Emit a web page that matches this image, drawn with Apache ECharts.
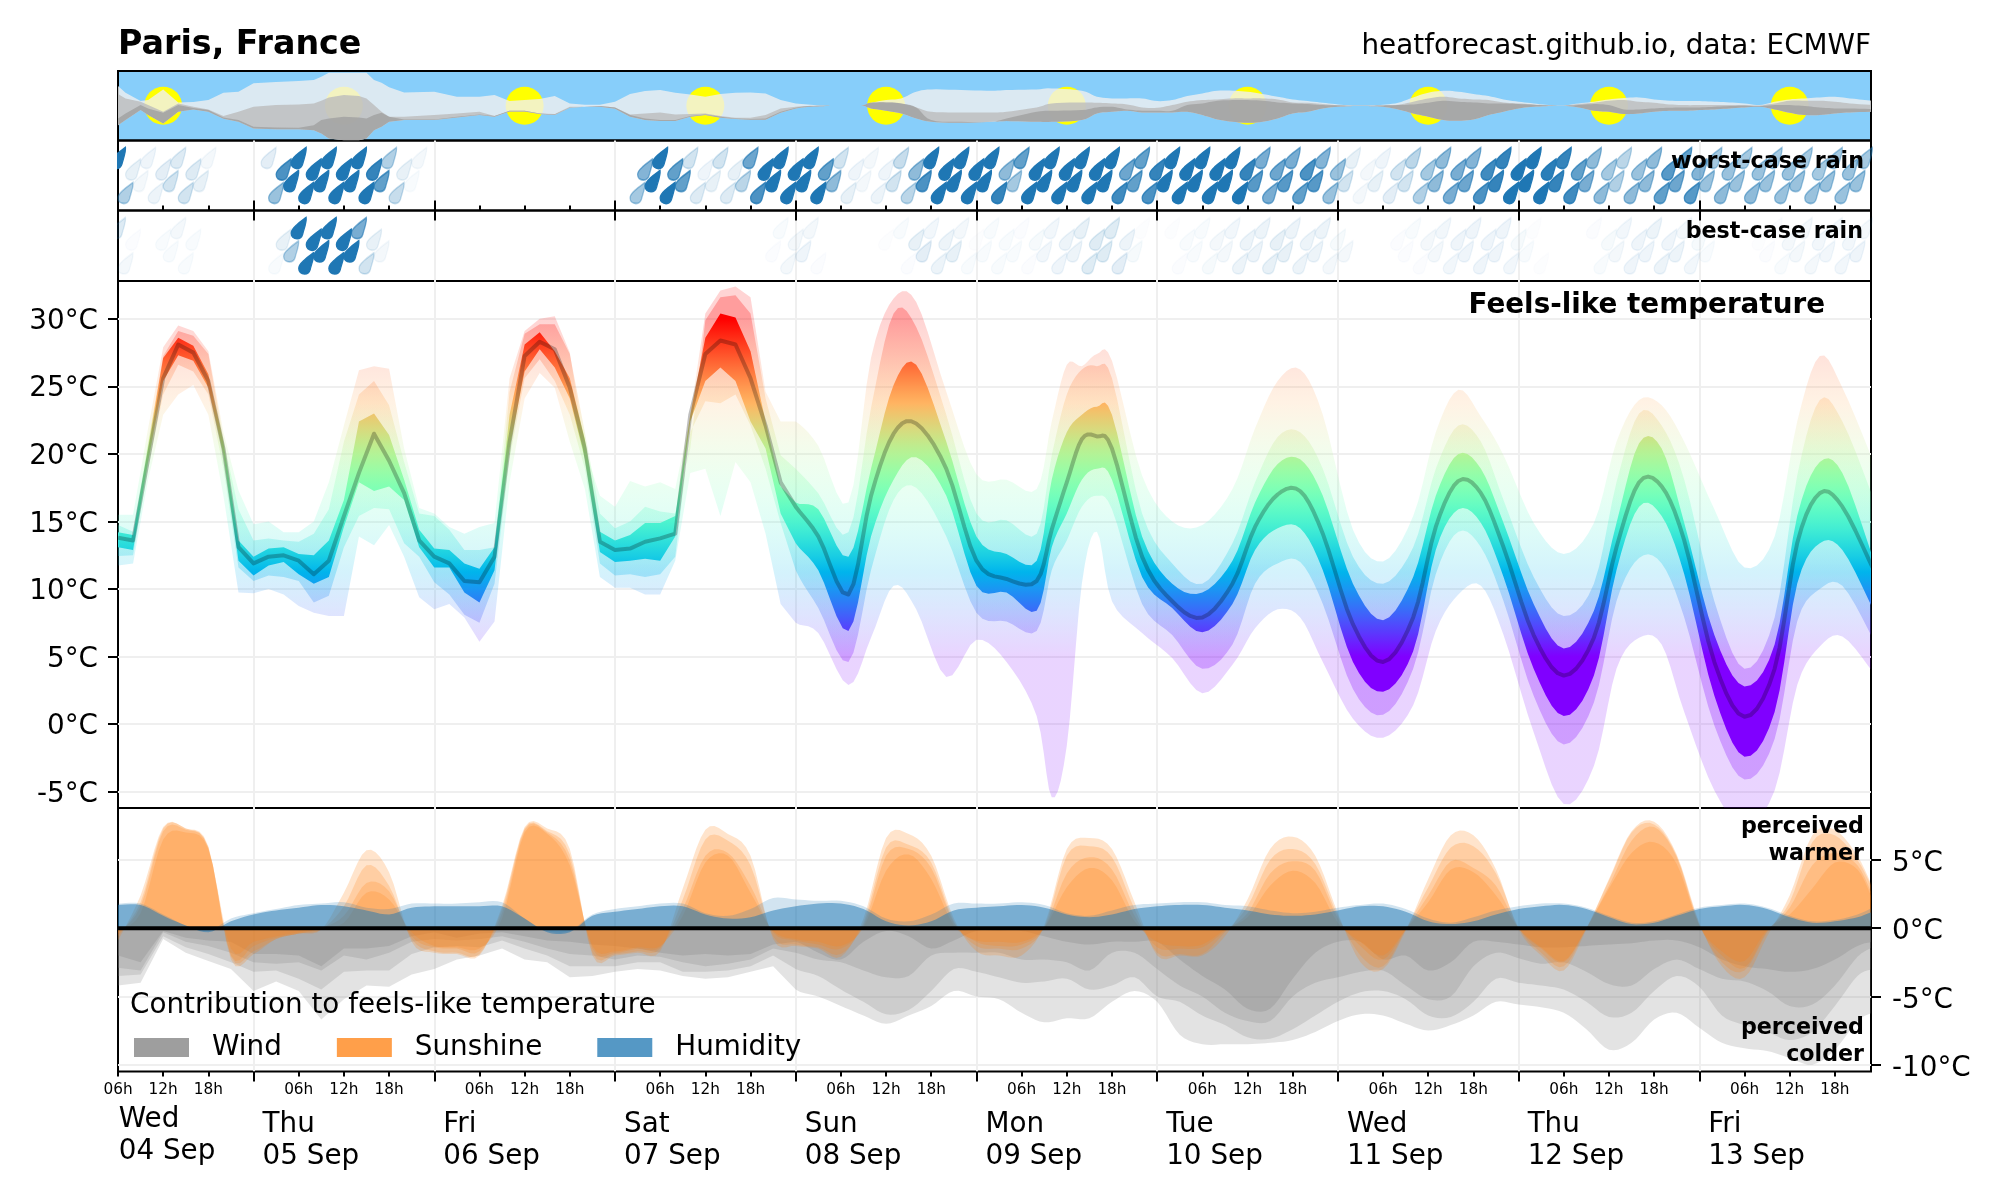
<!DOCTYPE html>
<html>
<head>
<meta charset="utf-8">
<title>Paris, France</title>
<style>html,body{margin:0;padding:0;background:#fff}#chart{width:2000px;height:1200px}</style>
<script src="https://cdn.jsdelivr.net/npm/echarts@6/dist/echarts.min.js"></script>
</head>
<body>
<div id="chart"></div>
<script>
// hours since Wed 04 Sep 06:00
const tempHours = [0,2,4,6,8,10,12,14,16,18,20,22,24,26,28,30,32,34,36,38,40,42,44,46,48,50,52,54,56,58,60,62,64,66,68,70,72,74,76,78,80,82,84,86,88,90,
  93,97,100,103,106,110,114,118,122,124,126,128,130,132,136,140,144,148,151,154,157,160,164,168,172,175,178,181,184,188,192,196,199,202,205,208,212,216,220,223,226,229,233];
const tempOuterHigh = [15.5,15.5,21.9,27.9,29.5,29.1,27.6,21.6,17.3,14.8,15.0,14.2,14.2,15.0,17.9,22.1,26.2,26.5,26.3,20.4,16.0,15.6,14.6,14.1,14.6,14.9,25.6,29.1,30.0,30.2,27.5,20.4,16.9,16.1,18.0,17.6,17.9,17.4,22.9,30.4,32.1,32.4,31.6,24.6,22.4,22.4,
  20.6,16.4,27.1,31.5,31.25,24.6,18.5,18.1,17.4,22.4,26.6,26.5,27.4,26.9,18.4,15.0,14.75,17.4,21.9,25.4,26.25,22.9,14.4,12.05,15.4,21.6,24.75,22.75,19.9,14.9,12.6,14.9,20.9,24.0,23.6,20.9,15.9,11.6,13.9,22.4,27.25,24.9,19.6];
const tempMidHigh = [14.75,14.25,20.9,27.25,29.1,28.75,27.4,21.1,15.9,13.6,13.75,13.6,13.5,14.1,15.9,20.9,24.4,25.4,23.6,19.4,15.6,15.4,14.4,12.9,12.9,13.1,24.6,28.9,29.6,29.6,27.4,21.6,15.6,14.5,15.0,16.1,15.75,15.6,20.4,29.9,31.6,31.75,30.4,24.1,19.9,18.9,
  17.1,14.2,23.4,30.4,29.4,22.9,15.6,15.1,14.1,19.9,24.4,26.25,26.5,25.6,15.6,11.9,10.4,13.4,17.9,21.25,21.6,18.9,12.4,10.4,13.1,18.9,22.1,20.9,16.6,10.9,8.0,10.4,17.9,23.0,22.1,18.1,9.1,4.1,7.9,18.4,24.0,22.4,16.9];
const tempInnerHigh = [14.2,14.0,20.6,27.1,28.6,28.0,25.9,20.9,13.6,12.4,13.0,13.1,12.6,12.5,13.6,16.6,22.4,23.0,21.4,18.1,14.4,13.0,12.9,11.9,11.5,13.1,22.9,28.1,29.0,27.6,25.6,21.1,14.25,13.6,14.0,14.9,14.9,15.4,22.9,28.6,30.4,30.1,27.6,22.4,17.6,16.4,
  15.9,12.4,18.9,25.1,26.6,20.9,13.9,12.6,12.1,18.1,21.6,22.9,23.5,22.9,13.9,10.4,9.75,12.1,16.4,19.25,19.6,16.9,10.4,7.7,10.9,16.9,20.0,18.9,14.9,8.9,5.6,8.4,14.9,20.8,20.4,14.9,6.6,2.8,5.9,15.4,19.4,18.6,12.4];
const tempMedian = [13.8,13.6,19.6,25.6,28.1,27.5,25.4,20.4,13.1,11.9,12.4,12.5,12.1,11.1,12.1,15.4,18.6,21.5,19.5,17.1,13.6,12.4,11.9,10.6,10.5,12.4,20.9,27.25,28.3,27.75,24.9,20.4,13.5,12.9,13.0,13.5,13.75,14.1,22.9,27.4,28.4,28.1,25.6,22.1,17.9,16.1,
  13.9,9.6,16.9,21.5,22.25,18.9,12.1,10.75,10.6,14.4,17.9,21.1,21.3,20.4,12.4,9.1,7.9,10.4,14.6,17.0,17.25,14.1,7.4,4.6,7.9,14.6,18.0,17.1,13.1,6.6,3.6,6.4,13.1,17.9,17.6,13.6,4.6,0.55,4.1,13.4,17.1,16.1,11.6];
const tempInnerLow = [13.1,12.9,19.4,25.4,27.3,26.9,24.9,19.9,12.1,11.0,11.75,12.0,11.1,10.4,10.9,14.6,17.9,17.25,17.6,16.6,13.1,11.6,11.6,9.75,9.0,11.4,20.4,26.1,27.75,26.4,24.1,19.6,12.75,12.0,12.1,12.25,12.1,13.9,22.4,25.4,26.4,25.4,22.4,20.4,15.6,13.4,
  11.4,6.9,13.9,18.1,19.75,16.9,10.25,9.75,8.4,13.1,15.6,18.1,18.9,18.1,10.9,8.6,6.8,8.9,12.9,14.5,14.5,11.4,4.6,2.4,5.4,12.9,15.9,14.9,10.9,4.1,0.6,3.6,11.4,16.1,15.4,11.1,2.1,-2.4,0.9,10.4,13.4,12.9,8.6];
const tempMidLow = [12.45,12.5,18.9,24.4,26.6,26.1,24.4,18.9,11.6,10.6,11.0,10.9,10.6,9.0,9.5,13.1,15.4,16.0,15.9,13.4,12.4,10.5,9.6,8.1,7.5,10.4,19.6,25.6,27.0,25.4,22.9,18.9,11.9,11.0,11.1,10.9,11.1,12.4,21.6,23.9,23.75,24.4,22.1,18.9,14.9,11.4,
  8.6,4.6,11.4,16.6,17.5,13.9,8.25,7.6,6.9,11.4,13.6,16.1,16.9,15.9,8.9,6.6,4.1,5.9,10.4,11.9,12.0,8.9,2.6,0.7,4.1,11.1,14.25,13.1,9.1,2.1,-1.5,1.6,9.1,12.3,11.9,7.9,-0.1,-4.1,-1.1,7.6,10.0,10.25,6.4];
const tempOuterLow = [11.75,11.9,18.1,22.9,24.4,25.1,22.9,16.9,9.75,9.7,10.0,9.6,8.75,8.25,8.0,8.0,13.9,13.25,14.75,12.4,9.4,8.5,8.9,7.9,6.1,7.6,17.9,24.1,26.0,24.9,20.9,17.4,10.9,10.1,10.1,9.6,9.6,12.1,18.6,18.9,15.4,19.4,17.9,14.1,8.9,7.5,
  6.75,2.9,6.4,10.25,8.5,3.5,6.25,4.6,0.6,-5.4,-1.6,10.4,14.25,9.1,6.75,4.9,2.3,4.4,7.1,8.5,7.9,4.6,0.4,-1.0,1.4,6.9,9.6,10.25,6.6,-0.6,-5.9,-3.1,4.1,6.4,5.9,0.9,-4.9,-7.6,-4.9,2.9,5.75,6.5,3.9];

const contribHours = [0,3,6,9,12,15,18,21,24,27,30,33,36,39,42,45,48,51,54,57,60,63,66,69,72,75,78,81,84,87,90,
  93,96,99,102,105,108,111,114,117,120,123,126,129,132,135,138,141,144,147,150,153,156,159,162,165,168,171,174,177,180,
  183,186,189,192,195,198,201,204,207,210,213,216,219,222,225,228,231,233];
const windOuter = [-4.2,-4.0,-0.8,-1.8,-2.4,-3.0,-4.6,-3.9,-4.6,-6.7,-5.2,-4.2,-4.3,-3.4,-3.0,-2.3,-2.0,-1.5,-2.3,-2.5,-3.6,-3.5,-3.2,-3.0,-3.1,-3.5,-3.7,-3.6,-3.2,-2.8,-4.5,
  -5.0,-5.7,-6.4,-7.0,-6.4,-5.7,-4.6,-5.0,-5.2,-6.2,-6.9,-6.6,-6.6,-5.4,-4.6,-5.4,-7.8,-8.5,-8.5,-8.5,-8.4,-8.2,-7.6,-6.8,-6.3,-6.4,-7.0,-7.5,-7.1,-6.4,
  -5.4,-5.6,-5.8,-6.2,-7.4,-8.9,-8.4,-6.7,-6.2,-7.3,-8.4,-8.8,-9.0,-9.5,-10.0,-8.9,-6.8,-6.2];
const windMid = [-3.5,-3.4,-0.6,-1.4,-1.9,-2.5,-3.2,-3.1,-3.7,-4.5,-3.2,-3.1,-3.1,-1.9,-1.4,-1.3,-1.4,-0.9,-1.5,-2.0,-2.8,-2.8,-2.8,-2.5,-2.5,-3.2,-3.2,-3.1,-2.8,-2.0,-3.0,
  -3.5,-4.5,-5.4,-6.3,-6.0,-4.6,-3.0,-3.2,-3.6,-4.0,-3.9,-3.7,-4.5,-4.2,-3.6,-5.0,-5.4,-6.4,-7.1,-8.0,-8.1,-7.4,-6.4,-5.4,-4.7,-4.6,-5.2,-6.4,-6.5,-5.4,
  -3.7,-4.0,-4.2,-4.5,-5.4,-6.5,-6.2,-4.6,-3.5,-4.3,-6.4,-7.1,-7.6,-8.2,-7.6,-5.7,-3.5,-3.0];
const windInner = [-2.9,-3.1,-0.3,-1.0,-1.3,-1.8,-2.5,-2.6,-2.5,-3.1,-2.0,-2.3,-1.8,-1.0,-0.8,-0.9,-0.8,-0.6,-1.0,-1.5,-1.9,-2.0,-2.3,-2.0,-2.1,-2.5,-2.8,-2.6,-2.3,-1.5,-1.8,
  -2.3,-2.5,-3.1,-3.6,-3.5,-2.0,-1.8,-1.8,-1.8,-2.3,-2.3,-2.5,-3.1,-1.8,-1.8,-3.0,-4.2,-5.0,-6.2,-6.8,-6.8,-5.0,-4.0,-3.6,-3.2,-3.1,-4.2,-5.2,-5.0,-2.8,
  -1.8,-2.2,-2.6,-2.5,-3.2,-4.1,-4.2,-3.0,-2.3,-3.0,-3.7,-3.9,-4.6,-5.7,-5.6,-4.2,-2.1,-1.4];
const windCore = [-2.0,-2.5,-0.2,-0.7,-0.9,-1.0,-1.9,-1.9,-2.0,-2.8,-1.5,-1.5,-1.3,-0.6,-0.3,-0.7,-0.4,-0.3,-0.6,-0.9,-1.0,-1.2,-1.3,-1.5,-1.8,-2.0,-1.9,-2.0,-1.9,-1.2,-1.0,
  -1.8,-2.3,-1.0,-0.2,-0.6,-1.5,-0.9,-0.2,-0.2,-0.2,-0.6,-1.0,-1.2,-1.0,-1.0,-1.0,-2.3,-3.5,-4.5,-5.9,-5.9,-3.7,-1.8,-1.0,-1.0,-2.3,-2.0,-3.1,-2.5,-1.0,
  -1.0,-1.2,-1.4,-1.4,-1.3,-1.2,-1.1,-0.9,-0.9,-1.4,-2.3,-2.8,-3.0,-3.2,-3.0,-2.3,-1.3,-1.0];
const sunOuter = [-0.9,2.4,7.4,7.3,6.0,-2.3,-1.9,-0.8,-0.4,-0.1,2.6,5.7,4.1,-1.0,-1.8,-1.9,-2.0,1.6,7.4,7.3,5.8,-2.0,-2.0,-1.8,-1.7,2.9,7.2,6.9,5.3,-0.8,-1.3,
  -1.5,-2.1,0.7,6.6,6.9,5.3,0.7,-1.7,-2.0,-2.0,0.2,5.8,6.6,5.8,1.9,-2.0,-2.0,-2.0,-0.6,2.1,5.8,6.7,5.3,1.1,-2.5,-3.0,-0.2,3.6,6.8,6.8,
  4.3,-0.1,-2.0,-3.1,-0.1,3.6,7.1,7.8,5.4,0.4,-2.8,-3.6,-0.6,2.4,6.8,7.2,5.3,3.0];
const sunMid = [-0.6,1.9,7.3,7.3,5.9,-2.1,-1.7,-0.8,-0.4,-0.1,1.6,4.6,3.1,-0.8,-1.7,-1.8,-1.9,1.4,7.3,7.1,5.4,-1.8,-1.9,-1.7,-1.5,2.1,6.5,6.4,4.6,-0.6,-1.2,
  -1.4,-1.9,0.4,5.9,6.1,4.8,0.5,-1.3,-1.5,-1.5,0.05,5.3,6.0,5.2,1.4,-1.8,-1.9,-1.9,-0.3,1.6,5.0,5.8,4.7,0.9,-2.0,-2.8,-0.1,3.0,5.9,6.0,
  4.0,0.05,-1.8,-2.8,0,3.5,7.0,7.6,5.3,0.3,-2.5,-3.1,-0.3,1.9,6.3,6.8,5.0,2.9];
const sunInner = [-0.4,1.6,7.1,7.2,5.9,-2.0,-1.3,-0.7,-0.4,0,0.9,3.3,2.7,-0.6,-1.4,-1.5,-1.7,1.1,7.2,7.0,5.0,-1.5,-1.8,-1.5,-1.4,1.4,5.3,5.5,3.1,-0.3,-0.9,
  -1.2,-1.5,0.2,5.3,5.8,4.4,0.4,-1.0,-1.3,-1.2,0,4.0,5.2,4.3,0.9,-1.4,-1.5,-1.4,-0.2,1.1,4.0,4.9,4.2,0.7,-1.3,-2.3,-0.1,2.4,4.9,4.4,
  3.1,0,-1.5,-2.5,0,3.1,6.4,7.4,5.2,0.2,-2.0,-2.9,-0.2,1.5,4.6,5.5,4.6,2.4];
const sunCore = [-0.2,1.1,6.5,7.0,5.8,-1.5,-1.0,-0.6,-0.3,0,0.4,2.6,2.1,-0.3,-1.3,-1.4,-1.5,0.7,7.0,6.9,4.6,-1.3,-1.7,-1.4,-1.3,0.9,4.8,5.3,2.6,-0.2,-0.8,
  -1.0,-1.3,0.05,4.2,5.4,3.6,0.2,-0.9,-1.0,-1.0,0,3.0,4.4,3.5,0.5,-1.0,-1.3,-1.2,-0.1,0.8,3.1,4.2,3.3,0.4,-1.0,-2.0,-0.1,1.9,4.3,4.1,
  2.4,0,-1.4,-2.4,0,2.9,5.5,6.3,4.7,0.2,-1.7,-2.4,-0.1,1.0,2.9,4.8,4.3,2.1];
const humidityHigh = [1.8,1.8,1.0,0.2,-0.2,0.7,1.1,1.4,1.7,1.8,1.9,1.5,1.4,1.8,1.8,1.8,1.9,1.9,0.7,-0.2,-0.2,1.0,1.4,1.6,1.8,1.8,1.1,0.9,1.4,2.2,2.1,
  2.0,2.0,1.6,0.7,0.5,1.0,1.8,1.8,1.8,1.9,1.7,1.1,0.9,1.3,1.7,1.8,1.9,1.9,1.7,1.6,1.3,1.1,1.2,1.5,1.7,1.8,1.4,0.7,0.4,0.8,
  1.3,1.6,1.8,1.8,1.5,0.9,0.4,0.5,1.0,1.5,1.7,1.8,1.5,0.9,0.5,0.6,1.0,1.5];
const humidityLow = [1.7,1.7,0.9,0.2,-0.3,0.5,1.0,1.3,1.5,1.7,1.6,1.3,1.0,1.5,1.6,1.6,1.6,1.6,0.7,-0.3,-0.3,0.9,1.2,1.4,1.6,1.6,1.0,0.7,0.8,1.3,1.6,
  1.8,1.8,1.4,0.5,0.2,0.5,1.3,1.5,1.6,1.7,1.5,1.0,0.8,1.0,1.4,1.6,1.7,1.7,1.5,1.3,1.0,0.9,1.0,1.3,1.6,1.6,1.2,0.5,0.3,0.5,
  1.0,1.4,1.6,1.7,1.4,0.8,0.3,0.4,0.9,1.4,1.6,1.7,1.4,0.8,0.4,0.5,0.8,1.2];

// one drop per forecast hour, its strength shown as opacity
const rainWorst = [1,.35,.1,.05, .07,.08,.12,.2, .15,.2,.15,.1, .05,0,0,0, 0,0,0,0, .12,.45,.8,1, 1,1,1,1, 1,1,1,1, 1,1,.9,.7, .35,.25,.1,.03,
  .05,0,0,0, 0,0,0,0, 0,0,0,0, 0,0,0,0, 0,0,0,0, 0,0,0,0, 0,0,0,0, 0,.4,.55,1,
  1,1,.7,.7, .2,.15,.07,.1, .2,.15,.1,.3, .65,.8,1,1, 1,1,1,1, 1,1,.7,.5, .2,.1,.07,.05, .05,.08,.07,.2, .25,.3,.5,.8,
  1,1,1,1, 1,1,1,1, 1,.9,.5,.4, .7,1,1,1, 1,1,1,1, 1,1,1,1, 1,.85,.65,.7, .7,.8,.9,1, 1,1,1,1, 1,1,1,1, 1,1,.9,.75,
  .6,.6,.65,.75, .6,.7,.8,.75, .55,.45,.45,.2, .1,.05,.05,.1, .07,.12,.2,.2, .3,.35,.4,.5, .5,.6,.6,.65, .55,.8,.85,.9,
  .9,1,1,1, 1,1,.95,.9, .9,.85,.7,.6, .5,.5,.4,.35, .3,.5,.45,.5, .5,.7,.75,.65, .7,.75,.55,.45, .4,.5,.45,.45,
  .4,.5,.45,.45, .4,.45,.45,.45, .4,.45,.4,.45, .4,.45,.45,.45, .4];
const rainBest = [.15,.05,.02,0, 0,0,.03,.03, .05,.03,.03,0, 0,0,0,0, 0,0,0,0, 0,.03,.1,.35, 1,1,1,1, 1,1,1,1, .6,.2,.1,.05,
  0,0,0,0, 0,0,0,0, 0,0,0,0, 0,0,0,0, 0,0,0,0, 0,0,0,0, 0,0,0,0, 0,0,0,0, 0,0,0,0, 0,0,0,0, 0,0,0,0, 0,0,0,0, 0,0,0,.02,
  .03,.05,.05,.07, .05,.02,0,0, 0,0,0,0, 0,0,.01,0, .03,.02,.1,.12, .06,.08,.08,.1, .05,.03,.01,.03, .03,.03,.03,.03,
  .02,.02,.04,.06, .06,.07,.08,.08, .1,.14,.14,.14, .14,.12,.08,.04, .01,0,0,0, .01,.02,.03,.03, .03,.04,.05,.05, .06,.08,.08,.08,
  .08,.1,.1,.1, .08,.08,.08,.08, .08,.05,.04,.05, 0,0,0,0, 0,0,.02,.02, .03,.02,.05,.05, .06,.06,.07,.07, .07,.07,.07,.07,
  .07,.06,.04,.03, .01,.01,0,0, 0,0,0,0, .02,.03,.04,.05, .06,.07,.07,.07, .08,.08,.07,.08, .05,.06,.04,.03, 0,0,0,0,
  0,0,.01,.02, .02,.03,.05,.05, .05,.05,.06,.06, .05,.06,.06,.07, .05];

const sunHours = [6,30,54,78,102,126,150,174,198,222];
const cloudHours = [0,1,3,4,6,8,10,12,14,16,18,21,24,26,27,28,30,32,33,34,35,36,38,42,45,48,50,52,54,56,58,60,62,64,66,68,70,72,74,76,78,80,82,84,86,88,90,92,94,95,98,99,100,102,104,106,108,112,116,118,122,124,128,130,132,134,136,138,140,142,144,146,148,150,152,154,156,158,160,162,164,166,168,170,172,174,176,178,180,182,184,186,188,190,192,194,196,198,200,202,204,206,208,210,212,214,216,218,220,222,224,226,228,230,233];
const cloudLightTop = [48,68,93,90,58,97,96,90,68,65,40,36,33,30,20,8,8,8,8,30,38,52,67,65,80,80,75,93,90,87,78,100,104,104,95,72,63,60,68,73,80,72,68,67,70,90,100,104,107,107,107,105,98,90,85,65,58,60,62,60,58,55,62,80,85,85,85,93,90,78,70,62,62,65,72,80,88,93,98,103,106,106,104,98,82,68,62,65,72,78,88,95,100,105,106,100,95,88,84,82,88,92,93,93,95,97,100,105,95,88,85,82,80,85,92];
const cloudMidTop = [72,85,95,105,125,100,110,118,138,125,110,105,103,100,92,82,75,78,85,105,125,140,140,135,130,125,138,122,122,130,132,110,110,108,112,133,130,127,133,132,130,138,143,143,135,115,110,107,107,107,107,105,98,97,100,112,125,127,127,125,112,100,97,98,100,103,112,113,105,95,90,88,85,85,85,88,97,98,102,105,107,107,106,104,95,85,80,85,88,90,97,100,103,106,106,102,98,92,90,95,98,103,105,105,105,105,105,106,100,92,92,92,95,100,105];
const cloudDarkTop = [145,130,105,115,128,105,114,120,142,150,170,172,173,165,150,145,140,142,145,135,128,140,148,148,140,133,138,122,122,130,133,112,110,108,112,135,145,150,150,138,133,140,145,147,145,125,113,108,107,107,107,105,98,97,100,112,150,155,155,145,125,122,120,112,110,118,122,122,122,105,100,92,90,90,92,97,100,102,105,106,107,107,106,105,103,98,92,95,97,100,100,102,104,106,107,105,102,105,118,118,115,113,112,112,110,108,107,108,105,105,108,112,115,115,117];
const cloudBottom = [165,150,120,135,160,125,118,125,146,155,175,177,177,180,190,205,210,210,205,180,170,155,150,150,142,135,140,124,124,132,135,113,110,110,116,140,150,153,153,140,135,143,147,149,149,128,115,110,108,107,107,107,115,122,130,145,155,158,155,153,155,155,150,130,125,122,127,127,127,125,135,148,155,158,155,145,130,125,115,110,108,108,110,118,130,140,150,152,148,135,125,115,110,108,107,112,122,125,132,130,125,122,122,120,118,115,112,110,118,128,135,135,130,127,125];

const tempTicks = [-5,0,5,10,15,20,25,30];
const contribTicks = [-10,-5,0,5];
const dayBounds = [18,42,66,90,114,138,162,186,210];
const hourTicks = [0,6,12,24,30,36,48,54,60,72,78,84,96,102,108,120,126,132,144,150,156,168,174,180,192,198,204,216,222,228];
const hourTickLabels = ['06h','12h','18h'];
const dayLabelHours = [19.2,43.2,67.2,91.2,115.2,139.2,163.2,187.2,211.2];
const dayLabels = ['Thu\n05 Sep','Fri\n06 Sep','Sat\n07 Sep','Sun\n08 Sep','Mon\n09 Sep','Tue\n10 Sep','Wed\n11 Sep','Thu\n12 Sep','Fri\n13 Sep'];
const firstDayHour = [0.1];
const firstDayLabel = 'Wed\n04 Sep';

const FONT = '"DejaVu Sans"';
const X_MAX = 232.8;
const chart = echarts.init(document.getElementById('chart'), null, {renderer:'canvas', width:2000, height:1200});

function trace(xs, ys, from) {
  const out = [];
  const n = xs.length;
  for (let i = 0; i < n - 1; i++) {
    if (xs[i] < from) { out.push([xs[i], ys[i]]); continue; }
    const a = Math.max(i - 1, 0), d = Math.min(i + 2, n - 1);
    for (let k = 0; k < 5; k++) {
      const t = k / 5, t2 = t * t, t3 = t2 * t;
      const cr = (p0, p1, p2, p3) => 0.5 * (2 * p1 + (p2 - p0) * t + (2 * p0 - 5 * p1 + 4 * p2 - p3) * t2 + (3 * p1 - p0 - 3 * p2 + p3) * t3);
      out.push([cr(xs[a], xs[i], xs[i + 1], xs[d]), cr(ys[a], ys[i], ys[i + 1], ys[d])]);
    }
  }
  out.push([xs[n - 1], ys[n - 1]]);
  return out;
}
function band(name, axis, xs, hi, lo, fill, opacity, from) {
  const start = from === undefined ? 89 : from;
  const up = trace(xs, hi, start);
  const down = lo ? trace(xs, lo, start).reverse() : [[xs[xs.length - 1], 0], [xs[0], 0]];
  return {
    type: 'custom', name, xAxisIndex: axis.x, yAxisIndex: axis.y, clip: true, silent: true, z: 2,
    data: xs.map((x, i) => [x, hi[i], lo ? lo[i] : 0]),
    encode: {x: 0, y: [1, 2]},
    renderItem(params, api) {
      if (params.dataIndex !== 0) return null;
      const pts = up.concat(down).map(p => api.coord(p));
      return {type: 'polygon', shape: {points: pts},
        style: {fill: typeof fill === 'function' ? fill(api) : fill, opacity}};
    }
  };
}
function rainbowStops() {
  const stops = [];
  for (let i = 0; i <= 40; i++) {
    const x = 1 - i / 40;
    const c = v => Math.round(255 * Math.min(1, Math.max(0, v)));
    stops.push({offset: i / 40, color: `rgb(${c(Math.abs(2 * x - 0.5))},${c(Math.sin(Math.PI * x))},${c(Math.cos(Math.PI * x / 2))})`});
  }
  return stops;
}
const STOPS = rainbowStops();
const tempFill = api => {
  const y1 = api.coord([0, 30])[1], y2 = api.coord([0, 5])[1];
  return new echarts.graphic.LinearGradient(0, y1, 0, y2, STOPS, true);
};
function drops(values, xi, yi) {
  const rowY = [.75, .25, .585, .42];
  return {
    type: 'scatter', xAxisIndex: xi, yAxisIndex: yi, silent: true, z: 3,
    symbol: 'path://M28 0 C29 10 24 22 21.5 33 C20 39 15 42 11 42 C4 42 0 37 0 31 C0 24 5 20 10 15 C16 9 23 4 28 0 Z',
    symbolSize: [15, 21],
    data: values.map((v, h) => ({value: [h, rowY[h % 4]], itemStyle: {opacity: v}})).filter(d => d.itemStyle.opacity > 0),
    itemStyle: {color: '#1f77b4', borderColor: '#1f77b4', borderWidth: 1.5}
  };
}

const GRID_COMMON = {left: 118, right: 129, show: true, borderColor: '#000', borderWidth: 2, containLabel: false};
const grids = [
  Object.assign({}, GRID_COMMON, {top: 71, height: 69.5, backgroundColor: '#87cefa'}),
  Object.assign({}, GRID_COMMON, {top: 140.5, height: 70}),
  Object.assign({}, GRID_COMMON, {top: 210.5, height: 70.5}),
  Object.assign({}, GRID_COMMON, {top: 281, height: 527}),
  Object.assign({}, GRID_COMMON, {top: 808, height: 263.5})
];
const gridLine = {show: true, lineStyle: {color: '#efefef', width: 2}};
const noLine = {show: false, onZero: false};
const baseX = {type: 'value', min: 0, max: X_MAX, axisLine: noLine, axisLabel: {show: false}, axisTick: {show: false}, splitLine: {show: false}};
const tickStyle = {color: '#000', width: 2};
const xAxes = [
  Object.assign({}, baseX, {gridIndex: 0, show: false}),
  Object.assign({}, baseX, {gridIndex: 1, position: 'bottom', axisTick: {show: true, inside: true, length: 5, lineStyle: tickStyle, customValues: hourTicks}}),
  Object.assign({}, baseX, {gridIndex: 1, position: 'bottom', axisTick: {show: true, inside: true, length: 10, lineStyle: tickStyle, customValues: dayBounds}, splitLine: gridLine}),
  Object.assign({}, baseX, {gridIndex: 2, position: 'top', axisTick: {show: true, inside: true, length: 10, lineStyle: tickStyle, customValues: dayBounds}, splitLine: gridLine}),
  Object.assign({}, baseX, {gridIndex: 3, position: 'bottom', axisTick: {show: false, customValues: dayBounds}, splitLine: gridLine}),
  Object.assign({}, baseX, {gridIndex: 4, position: 'bottom',
    axisTick: {show: true, length: 5, lineStyle: tickStyle, customValues: hourTicks},
    axisLabel: {show: true, customValues: hourTicks, margin: 11, fontSize: 15.3, fontFamily: FONT, color: '#000', hideOverlap: false,
      formatter: v => hourTickLabels[Math.round(v) % 24 === 0 ? 0 : Math.round(v) % 24 === 6 ? 1 : 2]}}),
  Object.assign({}, baseX, {gridIndex: 4, position: 'bottom',
    axisTick: {show: true, length: 10, lineStyle: tickStyle, customValues: dayBounds}, splitLine: gridLine,
    axisLabel: {show: true, customValues: dayLabelHours, margin: 37, fontSize: 27.8, lineHeight: 32, fontFamily: FONT, color: '#000', align: 'left', verticalAlign: 'top', hideOverlap: false,
      formatter: v => dayLabels[dayLabelHours.indexOf(v)]}}),
  Object.assign({}, baseX, {gridIndex: 4, position: 'bottom',
    axisLabel: {show: true, customValues: firstDayHour, margin: 32, fontSize: 27.8, lineHeight: 32, fontFamily: FONT, color: '#000', align: 'left', verticalAlign: 'top', hideOverlap: false,
      formatter: () => firstDayLabel}})
];
const yAxes = [
  {type: 'value', gridIndex: 0, show: false, inverse: true, min: 3, max: 211, axisLine: noLine},
  {type: 'value', gridIndex: 1, show: false, min: 0, max: 1, axisLine: noLine},
  {type: 'value', gridIndex: 2, show: false, min: 0, max: 1, axisLine: noLine},
  {type: 'value', gridIndex: 3, min: -6.2, max: 32.8, position: 'left',
    axisLine: noLine, splitLine: {show: true, lineStyle: {color: '#efefef', width: 2}},
    axisTick: {show: true, length: 10, lineStyle: tickStyle, customValues: tempTicks},
    axisLabel: {show: true, customValues: tempTicks, margin: 20, verticalAlign: 'top', lineHeight: 5.5, fontSize: 27.8, fontFamily: FONT, color: '#000', formatter: v => v + '°C'}},
  {type: 'value', gridIndex: 4, min: -10.5, max: 8.8, position: 'right',
    axisLine: noLine, splitLine: {show: true, lineStyle: {color: '#efefef', width: 2}},
    axisTick: {show: true, length: 10, lineStyle: tickStyle, customValues: contribTicks},
    axisLabel: {show: true, customValues: contribTicks, margin: 21, verticalAlign: 'top', lineHeight: 8, fontSize: 27.8, fontFamily: FONT, color: '#000', formatter: v => v + '°C'}}
];

const SKY = {x: 0, y: 0}, MAIN = {x: 4, y: 3}, CON = {x: 5, y: 4};
const GREY = 'rgba(128,128,128,1)', ORANGE = '#ff7f0e', BLUE = '#1f77b4';

const series = [
  {type: 'scatter', xAxisIndex: 0, yAxisIndex: 0, silent: true, symbol: 'circle', symbolSize: 38, z: 1,
   data: sunHours.map(h => [h, 107]), itemStyle: {color: '#ffff00', opacity: 1}},
  band('cloudLight', SKY, cloudHours, cloudLightTop, cloudBottom, 'rgb(240,240,240)', .8),
  band('cloudMid', SKY, cloudHours, cloudMidTop, cloudBottom, 'rgb(187,187,187)', .8),
  band('cloudDark', SKY, cloudHours, cloudDarkTop, cloudBottom, 'rgb(160,160,160)', .8),
  drops(rainWorst, 1, 1),
  drops(rainBest, 3, 2),
  band('tempOuter', MAIN, tempHours, tempOuterHigh, tempOuterLow, tempFill, .17),
  band('tempMid', MAIN, tempHours, tempMidHigh, tempMidLow, tempFill, .26),
  band('tempInner', MAIN, tempHours, tempInnerHigh, tempInnerLow, tempFill, 1),
  {type: 'custom', name: 'median', xAxisIndex: 4, yAxisIndex: 3, clip: true, silent: true, z: 3,
   data: tempHours.map((h, i) => [h, tempMedian[i]]), encode: {x: 0, y: 1},
   renderItem(params, api) {
     if (params.dataIndex !== 0) return null;
     return {type: 'polyline', shape: {points: trace(tempHours, tempMedian, 89).map(p => api.coord(p))},
       style: {stroke: 'rgba(0,0,0,.25)', lineWidth: 4, fill: null, lineJoin: 'round'}};
   }},
  band('Wind', CON, contribHours, windOuter, null, GREY, .22),
  band('Wind', CON, contribHours, windMid, null, GREY, .22),
  band('Wind', CON, contribHours, windInner, null, GREY, .24),
  band('Wind', CON, contribHours, windCore, null, GREY, .27),
  band('Sunshine', CON, contribHours, sunOuter, null, ORANGE, .21, -1),
  band('Sunshine', CON, contribHours, sunMid, null, ORANGE, .21, -1),
  band('Sunshine', CON, contribHours, sunInner, null, ORANGE, .21, -1),
  band('Sunshine', CON, contribHours, sunCore, null, ORANGE, .21, -1),
  band('Humidity', CON, contribHours, humidityHigh, null, BLUE, .2, -1),
  band('Humidity', CON, contribHours, humidityLow, null, BLUE, .5, -1),
  {type: 'line', xAxisIndex: 5, yAxisIndex: 4, silent: true, z: 5, showSymbol: false, data: [[0, 0], [X_MAX, 0]],
   lineStyle: {color: '#000', width: 4}}
];

function text(str, x, y, font, align, extra) {
  return {type: 'text', x, y, z: 20, silent: true,
    style: Object.assign({text: str, font, fill: '#000', align: align || 'left', verticalAlign: 'middle'}, extra || {})};
}
const BOLD_S = `bold 22.2px ${FONT}`;
const graphics = [
  {type: 'rect', z: 15, silent: true, shape: {x: 100, y: 142, width: 17, height: 138}, style: {fill: '#fff'}},
  text('Paris, France', 118, 45, `bold 33.3px ${FONT}`),
  text('heatforecast.github.io, data: ECMWF', 1871, 47, `27.8px ${FONT}`, 'right'),
  text('Feels-like temperature', 1825, 306, `bold 27.8px ${FONT}`, 'right'),
  text('worst-case rain', 1864, 162, BOLD_S, 'right'),
  text('best-case rain', 1863, 232, BOLD_S, 'right'),
  text('perceived\nwarmer', 1864, 841, BOLD_S, 'right', {lineHeight: 27}),
  text('perceived\ncolder', 1864, 1042, BOLD_S, 'right', {lineHeight: 27}),
  text('Contribution to feels-like temperature', 130, 1005.5, `27.8px ${FONT}`)
];

chart.setOption({
  animation: false,
  backgroundColor: '#fff',
  textStyle: {fontFamily: FONT},
  grid: grids,
  xAxis: xAxes,
  yAxis: yAxes,
  series,
  legend: {
    left: 134, top: 1033.5, padding: 0, itemWidth: 55, itemHeight: 19, itemGap: 55, icon: 'rect', selectedMode: false, z: 20,
    textStyle: {fontSize: 27.8, fontFamily: FONT, color: '#000', padding: [0, 0, 0, 18]},
    data: [
      {name: 'Wind', itemStyle: {color: '#9e9e9e', opacity: 1}},
      {name: 'Sunshine', itemStyle: {color: '#ff9f4a', opacity: 1}},
      {name: 'Humidity', itemStyle: {color: '#5598c5', opacity: 1}}
    ]
  },
  graphic: {elements: graphics}
});
</script>
</body>
</html>
